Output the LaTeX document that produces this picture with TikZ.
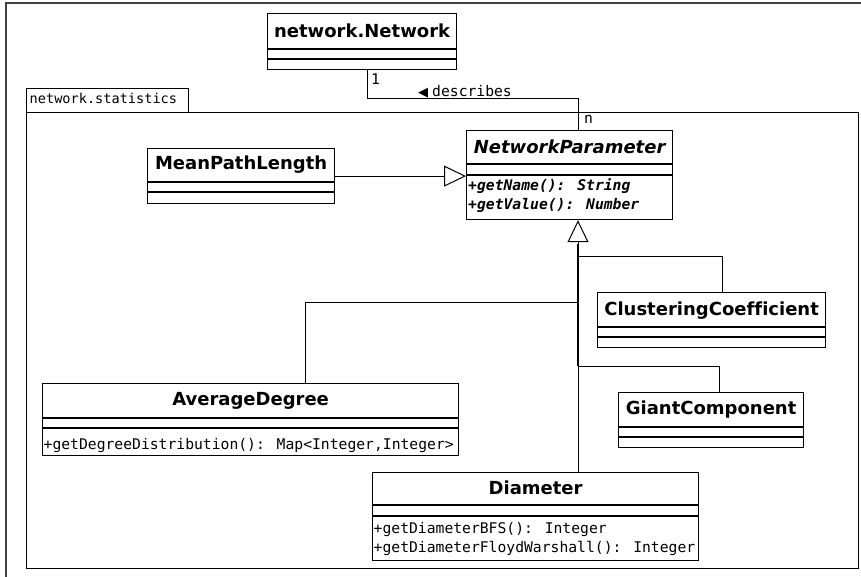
\documentclass[tikz,border=0pt]{standalone}
\usepackage{fontspec}
\setmainfont{DejaVu Sans}[Ligatures=NoCommon]
\newfontfamily\umlmono{DejaVu Sans Mono}
\newfontfamily\umlsym{DejaVu Sans}
\usetikzlibrary{calc,arrows.meta}

\tikzset{
  classbox/.style={draw, line width=1.2pt, inner sep=0pt, anchor=north west, fill=white},
  sepline/.style={line width=1.8pt},
  classname/.style={anchor=base, inner sep=0pt, font=\fontsize{18}{21}\selectfont\bfseries},
  member/.style={anchor=base west, inner sep=0pt, font=\umlmono\fontsize{14.7}{17}\selectfont},
  conn/.style={line width=1pt},
  generalize/.style={conn, -{Triangle[length=22pt, width=21pt, fill=white, line width=1pt]}},
  frameline/.style={line width=1.4pt, draw=black!75},
}

% Draws the two separator lines of a class box at the given depths below its top
\newcommand{\classseps}[3]{%
  \draw[sepline] ($(#1.north west)+(0,#2)$) -- ($(#1.north east)+(0,#2)$);
  \draw[sepline] ($(#1.north west)+(0,#3)$) -- ($(#1.north east)+(0,#3)$);
}

\begin{document}
\begin{tikzpicture}[x=1pt, y=-1pt]
\useasboundingbox (0,0) rectangle (861,577);

% outer diagram frame
\draw[frameline] (6,580) -- (6,3) -- (864,3);

% package network.statistics
\node[draw, line width=1.2pt, inner sep=0pt, anchor=north west,
      minimum width=162pt, minimum height=24pt] (pkgtab) at (26,88) {};
\node[member, font=\umlmono\fontsize{13.6}{16}\selectfont] (pkglabel) at (29.5,104) {network.statistics};
\node[draw, line width=1.2pt, inner sep=0pt, anchor=north west,
      minimum width=832pt, minimum height=456pt] (pkg) at (26,112) {};

% network.Network
\node[classbox, minimum width=189pt, minimum height=56pt] (net) at (267,13) {};
\classseps{net}{36}{46}
\node[classname] (netname) at ($(net.north)+(0,24.5)$) {network.Network};

% NetworkParameter
\node[classbox, minimum width=206pt, minimum height=89pt] (np) at (466,130) {};
\classseps{np}{34}{45}
\node[classname, font=\fontsize{18}{21}\selectfont\bfseries\itshape] (npname) at ($(np.north)+(0,24)$) {NetworkParameter};
\node[member, font=\umlmono\fontsize{14.7}{17}\selectfont\bfseries\itshape] (npm1) at ($(np.north west)+(2,61)$) {+getName(): String};
\node[member, font=\umlmono\fontsize{14.7}{17}\selectfont\bfseries\itshape] (npm2) at ($(np.north west)+(2,79.5)$) {+getValue(): Number};

% MeanPathLength
\node[classbox, minimum width=187pt, minimum height=55pt] (mpl) at (147,148) {};
\classseps{mpl}{34}{44}
\node[classname] (mplname) at ($(mpl.north)+(0,22)$) {MeanPathLength};

% ClusteringCoefficient
\node[classbox, minimum width=228pt, minimum height=55pt] (cc) at (597,292) {};
\classseps{cc}{35}{45}
\node[classname] (ccname) at ($(cc.north)+(0,23)$) {ClusteringCoefficient};

% GiantComponent
\node[classbox, minimum width=185pt, minimum height=55pt] (gc) at (618,392) {};
\classseps{gc}{35}{45}
\node[classname] (gcname) at ($(gc.north)+(0,22.5)$) {GiantComponent};

% AverageDegree
\node[classbox, minimum width=416pt, minimum height=72pt] (ad) at (42,383) {};
\classseps{ad}{35}{45}
\node[classname] (adname) at ($(ad.north)+(0,22.5)$) {AverageDegree};
\node[member] (adm1) at ($(ad.north west)+(1.5,66)$) {+getDegreeDistribution(): Map<Integer,Integer>};

% Diameter
\node[classbox, minimum width=326pt, minimum height=88pt] (dia) at (372,472) {};
\classseps{dia}{33}{44}
\node[classname] (dianame) at ($(dia.north)+(0,22.5)$) {Diameter};
\node[member] (diam1) at ($(dia.north west)+(1.5,61)$) {+getDiameterBFS(): Integer};
\node[member] (diam2) at ($(dia.north west)+(1.5,80)$) {+getDiameterFloydWarshall(): Integer};

% association: NetworkParameter describes network.Network
\draw[conn] ($(net.south west)+(100,0)$) |- ($(np.north west)+(112,-31)$) -- ($(np.north west)+(112,0)$);
\node[member] (mult1) at ($(net.south west)+(104,14.5)$) {1};
\node[member] (assoclabel) at ($(net.south west)+(151,26)$) {{\umlsym\fontsize{13}{16}\selectfont ◀}\hspace{4pt}describes};
\node[member] (multn) at ($(np.north west)+(118,-6.5)$) {n};

% generalizations
\draw[generalize] (mpl.east) -- (mpl.east -| np.west);

\coordinate (jcc) at (578,256);
\coordinate (jad) at (578,302);
\coordinate (jgc) at (578,366);
% shared trunk: the upper part carries several overlapping branches
\draw[line width=1.7pt] (jgc) -- ($(np.south west)+(112,24)$);
\draw[generalize] ($(dia.north west)+(206,0)$) -- ($(np.south west)+(112,0)$);
\draw[conn] (jcc) -| ($(cc.north west)+(125,0)$);
\draw[conn] (jad) -| ($(ad.north west)+(263,0)$);
\draw[conn] (jgc) -| ($(gc.north west)+(101,0)$);
\end{tikzpicture}
\end{document}
